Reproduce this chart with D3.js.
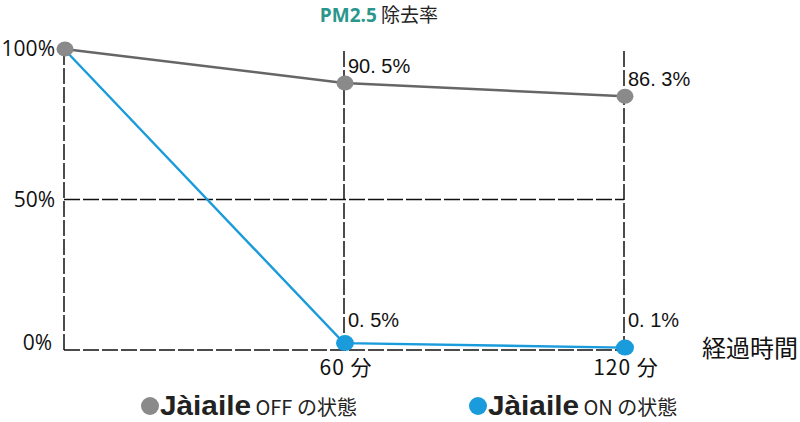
<!DOCTYPE html>
<html><head><meta charset="utf-8">
<script src="https://cdn.jsdelivr.net/npm/d3@7"></script>
<style>body{margin:0;background:#fff}svg{display:block}</style>
</head><body>
<svg id="c" width="800" height="422"></svg>
<script>
const times = [0, 60, 120];
const xTickLabels = ["60 分", "120 分"];
const yTicks = [0, 50, 100];
const yTickLabels = ["0%", "50%", "100%"];
const offValues = [100, 88.7, 84.3];
const onValues = [100, 2.3, 0.8];
const offLabels = ["", "90. 5%", "86. 3%"];
const onLabels = ["", "0. 5%", "0. 1%"];
const seriesNames = ["OFF の状態", "ON の状態"];
const brand = "Jàiaile";
const colors = {off: "#8a8a8a", offLine: "#666666", on: "#1a9bdb"};

const svg = d3.select("#c");
const x = d3.scaleLinear().domain([0, 120]).range([64, 624]);
const y = d3.scaleLinear().domain([0, 100]).range([350, 49]);
const font = "'Noto Sans CJK JP', 'Noto Sans', sans-serif";
const dash = "16,3";

// title
const t = svg.append("text").attr("x", 379).attr("y", 22).attr("text-anchor", "middle")
  .style("font-family", font).style("font-size", "19px");
t.append("tspan").text("PM2.5").attr("fill", "#2a968c").style("font-weight", "bold").style("font-family","'Open Sans', sans-serif");
t.append("tspan").text(" 除去率").attr("fill", "#222");

// grid
const g = svg.append("g").attr("stroke", "#111").attr("stroke-width", 1.5).attr("stroke-dasharray", dash).attr("fill","none");
g.append("line").attr("x1", x(0)).attr("x2", x(0)).attr("y1", y(100)).attr("y2", y(0));
[60, 120].forEach(v => g.append("line").attr("x1", x(v)).attr("x2", x(v)).attr("y1", y(100) + 2).attr("y2", y(0)));
[0, 50].forEach(v => g.append("line").attr("x1", x(0)).attr("x2", x(120)).attr("y1", y(v)).attr("y2", y(v)));

// y labels
yTicks.forEach((v, i) => svg.append("text").attr("x", v === 0 ? 52 : 55).attr("y", y(v) + (v === 0 ? 0 : 7))
  .attr("text-anchor", "end").style("font-family", "'Open Sans', sans-serif").style("font-size", "21px")
  .attr("fill", "#111").text(yTickLabels[i]));

// x labels
[60, 120].forEach((v, i) => svg.append("text").attr("x", x(v) + 2).attr("y", 375).attr("text-anchor", "middle")
  .style("font-family", font).style("font-size", "21px").style("letter-spacing", "1px").attr("fill", "#111").text(xTickLabels[i]));
svg.append("text").attr("x", 750).attr("y", 357).attr("text-anchor", "middle")
  .style("font-family", font).style("font-size", "24px").attr("fill", "#111").text("経過時間");

// lines
const line = d3.line().x((d, i) => x(times[i])).y(d => y(d));
svg.append("path").datum(offValues).attr("d", line).attr("fill", "none").attr("stroke", colors.offLine).attr("stroke-width", 2.5);
svg.append("path").datum(onValues).attr("d", line).attr("fill", "none").attr("stroke", colors.on).attr("stroke-width", 2.4);

// dots
svg.selectAll(".off").data(offValues).enter().append("ellipse")
  .attr("cx", (d, i) => x(times[i]) + 1).attr("cy", d => y(d)).attr("rx", 8.5).attr("ry", 7.5).attr("fill", colors.off);
svg.selectAll(".on").data(onValues).enter().append("ellipse")
  .attr("cx", (d, i) => x(times[i]) + 1).attr("cy", d => y(d)).attr("rx", 9).attr("ry", 8)
  .attr("fill", colors.on).style("display", (d, i) => i === 0 ? "none" : null);

// value labels
const lab = (vals, labels, dy) => vals.forEach((v, i) => {
  if (!labels[i]) return;
  svg.append("text").attr("x", x(times[i]) + 4).attr("y", dy(v, i))
    .style("font-family", "'Liberation Sans', Arial, sans-serif").style("font-size", "20px").attr("fill", "#111").text(labels[i]);
});
lab(offValues, offLabels, (v) => y(v) - 10);
lab(onValues, onLabels, () => 327);

// legend
const leg = [[150, colors.off, seriesNames[0]], [478, colors.on, seriesNames[1]]];
leg.forEach(([lx, c, name]) => {
  svg.append("circle").attr("cx", lx).attr("cy", 406).attr("r", 9).attr("fill", c);
  const tx = svg.append("text").attr("x", lx + 10).attr("y", 415).attr("fill", "#222");
  tx.append("tspan").text(brand).style("font-family", "'Liberation Sans', Arial, sans-serif").style("font-weight", "900").style("font-size", "27px")
    .attr("textLength", 91).attr("lengthAdjust", "spacingAndGlyphs");
  tx.append("tspan").text(" " + name).style("font-family", font).style("font-size", "20px");
});
</script>
</body></html>
